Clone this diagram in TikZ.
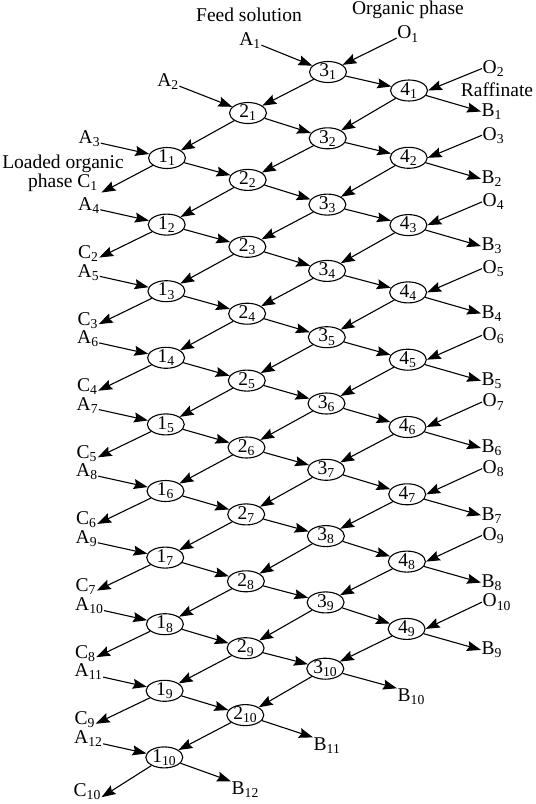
\documentclass[tikz,border=0pt]{standalone}
\usepackage{fontspec}
\setmainfont{Liberation Serif}
\usetikzlibrary{arrows.meta,shapes.geometric}

\begin{document}
\begin{tikzpicture}[
  x=1pt, y=-1pt,
  >={Stealth[length=14pt,width=10pt,inset=2pt]},
  font=\fontsize{19.5}{22}\selectfont,
  stage/.style={draw, ellipse, line width=1.1pt, inner sep=0pt, minimum width=37pt,
                minimum height=21pt, text height=12pt, text depth=2.5pt},
  lbl/.style={inner sep=0.5pt},
  flow/.style={->, line width=1.1pt}
]
  \useasboundingbox (0,0) rectangle (536,804);

  % stages, column by column
  \foreach \i in {1,...,10}{
    \node[stage] (s1-\i) at ({167-0.3*(\i-1)},{158+66.6*(\i-1)}) {1\textsubscript{\i}};
    \node[stage] (s2-\i) at ({248-0.3*(\i-1)},{113+66.9*(\i-1)}) {2\textsubscript{\i}};
    \node[stage] (s3-\i) at ({328-0.3*(\i-1)},{72+66.3*(\i-1)}) {3\textsubscript{\i}};
  }
  \foreach \i in {1,...,9}
    \node[stage] (s4-\i) at ({409-0.3*(\i-1)},{90.5+67.3*(\i-1)}) {4\textsubscript{\i}};

  % streams in and out
  \node[lbl] (feed) at (249,15) {Feed solution};
  \node[lbl] (org) at (408,10) {Organic phase};
  \node[lbl] (raff) at (497,90) {Raffinate};
  \node[lbl] (a1) at (250,41) {A\textsubscript{1}};
  \node[lbl] (a2) at (168,82) {A\textsubscript{2}};
  \node[lbl] (o1) at (408,34) {O\textsubscript{1}};
  \foreach \i [count=\j from 3] in {1,...,10}
    \node[lbl, anchor=west] (a\j) at ({78-0.5*(\i-1)},{158+66.6*(\i-1)-19}) {A\textsubscript{\j}};
  \node[lbl, label={[lbl]above:Loaded organic}] (c1) at (63,183) {phase C\textsubscript{1}};
  \foreach \i in {2,...,9}
    \node[lbl, anchor=west] (c\i) at ({78-0.5*(\i-1)},{158+66.6*(\i-1)+29}) {C\textsubscript{\i}};
  \node[lbl, anchor=west] (c10) at (73,792) {C\textsubscript{10}};
  \foreach \i [count=\j from 2] in {1,...,9}{
    \node[lbl, anchor=west] (o\j) at (482,{90.5+67.3*(\i-1)-22-0.6*(\i-1)}) {O\textsubscript{\j}};
    \node[lbl, anchor=west] (b\i) at (481,{90.5+67.3*(\i-1)+21}) {B\textsubscript{\i}};
  }
  \node[lbl, anchor=west] (b10) at (397,697) {B\textsubscript{10}};
  \node[lbl, anchor=west] (b11) at (313,746) {B\textsubscript{11}};
  \node[lbl, anchor=west] (b12) at (231,790) {B\textsubscript{12}};

  % flows between stages
  \foreach \i in {1,...,10}{
    \draw[flow] (s3-\i) -- (s2-\i);
    \draw[flow] (s2-\i) -- (s1-\i);
  }
  \foreach \i [count=\j from 2] in {1,...,9}{
    \draw[flow] (s3-\i) -- (s4-\i);
    \draw[flow] (s4-\i) -- (s3-\j);
    \draw[flow] (s2-\i) -- (s3-\j);
    \draw[flow] (s1-\i) -- (s2-\j);
    \draw[flow] (o\j.west) -- (s4-\i.east);
    \draw[flow] (s4-\i) -- (b\i.west);
  }
  \foreach \i [count=\j from 3] in {1,...,10}
    \draw[flow] (a\j.-20) -- (s1-\i);
  \foreach \i in {2,...,10}
    \draw[flow] (s1-\i) -- (c\i.-20);
  \draw[flow] (s1-1) -- ([xshift=3pt]c1.south east);
  \draw[flow] (a1.-20) -- (s3-1);
  \draw[flow] (o1.200) -- (s3-1);
  \draw[flow] (a2.-20) -- (s2-1);
  \draw[flow] (s3-10) -- (b10.north west);
  \draw[flow] (s2-10) -- (b11.north west);
  \draw[flow] (s1-10) -- (b12.north west);
\end{tikzpicture}
\end{document}
